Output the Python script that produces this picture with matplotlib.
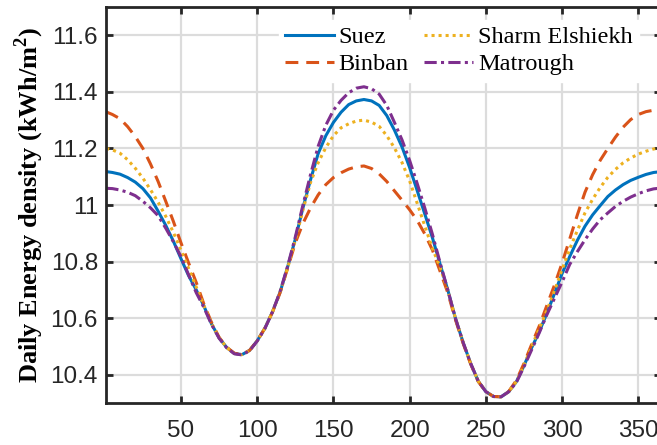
import matplotlib
matplotlib.use("Agg")
import matplotlib.pyplot as plt

days = [1] + list(range(5, 365, 5)) + [365]

suez = [11.118, 11.115, 11.109, 11.097, 11.081, 11.058, 11.025, 10.978, 10.928, 10.872,
        10.810, 10.750, 10.700, 10.643, 10.580, 10.530, 10.496, 10.475, 10.471, 10.486,
        10.520, 10.564, 10.622, 10.692, 10.782, 10.880, 10.990, 11.090, 11.182, 11.245,
        11.292, 11.328, 11.355, 11.368, 11.373, 11.368, 11.352, 11.316, 11.265, 11.205,
        11.132, 11.050, 10.967, 10.883, 10.790, 10.700, 10.600, 10.515, 10.440, 10.377,
        10.340, 10.323, 10.322, 10.340, 10.375, 10.432, 10.495, 10.552, 10.617, 10.687,
        10.758, 10.818, 10.875, 10.925, 10.965, 10.998, 11.030, 11.053, 11.072, 11.087,
        11.098, 11.108, 11.115, 11.118]

binban = [11.329, 11.320, 11.305, 11.277, 11.242, 11.200, 11.145, 11.083, 11.013, 10.942,
          10.866, 10.795, 10.726, 10.650, 10.585, 10.532, 10.497, 10.476, 10.471, 10.486,
          10.520, 10.564, 10.621, 10.690, 10.778, 10.866, 10.935, 10.990, 11.036, 11.072,
          11.097, 11.114, 11.127, 11.135, 11.138, 11.129, 11.110, 11.083, 11.050, 11.017,
          10.983, 10.945, 10.897, 10.840, 10.765, 10.690, 10.595, 10.512, 10.438, 10.376,
          10.340, 10.323, 10.322, 10.341, 10.380, 10.440, 10.507, 10.572, 10.645, 10.717,
          10.795, 10.880, 10.965, 11.045, 11.107, 11.158, 11.200, 11.240, 11.275, 11.302,
          11.320, 11.330, 11.335, 11.336]

sharm = [11.200, 11.195, 11.183, 11.160, 11.130, 11.095, 11.054, 11.010, 10.960, 10.903,
         10.840, 10.776, 10.710, 10.645, 10.582, 10.531, 10.496, 10.475, 10.471, 10.486,
         10.520, 10.564, 10.622, 10.690, 10.778, 10.875, 10.983, 11.080, 11.150, 11.203,
         11.245, 11.273, 11.287, 11.297, 11.300, 11.293, 11.278, 11.245, 11.202, 11.150,
         11.085, 11.005, 10.925, 10.845, 10.780, 10.698, 10.600, 10.515, 10.440, 10.377,
         10.340, 10.323, 10.322, 10.340, 10.376, 10.434, 10.500, 10.563, 10.627, 10.697,
         10.772, 10.845, 10.910, 10.972, 11.020, 11.062, 11.098, 11.126, 11.149, 11.166,
         11.180, 11.190, 11.198, 11.202]

matrough = [11.059, 11.058, 11.053, 11.045, 11.033, 11.013, 10.990, 10.962, 10.918, 10.870,
            10.817, 10.753, 10.690, 10.638, 10.578, 10.529, 10.495, 10.474, 10.470, 10.485,
            10.519, 10.563, 10.622, 10.694, 10.785, 10.887, 11.000, 11.108, 11.208, 11.282,
            11.335, 11.370, 11.397, 11.413, 11.418, 11.411, 11.392, 11.352, 11.292, 11.230,
            11.157, 11.075, 10.988, 10.895, 10.795, 10.700, 10.600, 10.515, 10.440, 10.377,
            10.340, 10.323, 10.322, 10.340, 10.373, 10.428, 10.488, 10.548, 10.612, 10.670,
            10.728, 10.790, 10.835, 10.877, 10.915, 10.948, 10.972, 10.995, 11.013, 11.028,
            11.040, 11.050, 11.057, 11.060]

series_names = ["Suez", "Binban", "Sharm Elshiekh", "Matrough"]
xticks = [50, 100, 150, 200, 250, 300, 350]
yticks = [10.4, 10.6, 10.8, 11.0, 11.2, 11.4, 11.6]
yticklabels = ["10.4", "10.6", "10.8", "11", "11.2", "11.4", "11.6"]

plt.rcParams["mathtext.fontset"] = "custom"
plt.rcParams["mathtext.rm"] = "Liberation Serif:bold"
plt.rcParams["mathtext.bf"] = "Liberation Serif:bold"

W, H = 657, 445
fig = plt.figure(figsize=(W / 100, H / 100), dpi=100)
left_px, right_px, top_px, bottom_px = 106.3, 661.2, 7.0, 403.0
ax = fig.add_axes([left_px / W, 1 - bottom_px / H,
                   (right_px - left_px) / W, (bottom_px - top_px) / H])

styles = [
    dict(color="#0072BD", linestyle="-"),
    dict(color="#D95319", linestyle=(0, (4.2, 2.6))),
    dict(color="#EDB120", linestyle=(0, (1, 1.3))),
    dict(color="#7E2F8E", linestyle=(0, (4.0, 1.4, 1.0, 1.4))),
]
for vals, name, st in zip([suez, binban, sharm, matrough], series_names, styles):
    ax.plot(days, vals, label=name, linewidth=2.2, **st)

ax.set_xlim(1, 365)
ax.set_ylim(10.3, 11.7)
ax.set_xticks(xticks)
ax.set_yticks(yticks)
ax.set_yticklabels(yticklabels)
ax.grid(True, color="#dcdcdc", linewidth=1.6)
ax.set_axisbelow(True)

for sp in ax.spines.values():
    sp.set_linewidth(2.0)
    sp.set_color("#262626")
ax.tick_params(direction="in", length=5, width=2, top=True, right=True,
               color="#262626", labelsize=17.5, labelcolor="#262626")
ax.tick_params(axis="x", pad=12)
ax.tick_params(axis="y", pad=6)
for lab in ax.get_xticklabels() + ax.get_yticklabels():
    lab.set_fontfamily("Liberation Sans")

ax.set_ylabel(r"Daily Energy density (kWh/m$^{\mathrm{2}}$)",
              fontfamily="Liberation Serif", fontweight="bold", fontsize=19,
              labelpad=3)

leg = ax.legend(ncol=2, loc="upper left",
                bbox_to_anchor=(279 / W, 1 - 20 / H), bbox_transform=fig.transFigure,
                prop={"family": "Liberation Serif", "size": 17.5},
                frameon=True, fancybox=False, framealpha=1.0,
                handlelength=2.0, handletextpad=0.2, columnspacing=0.65,
                labelspacing=0.22, borderpad=0.25, borderaxespad=0)
leg.get_frame().set_edgecolor("white")
leg.get_frame().set_facecolor("white")

fig.savefig("out.png", dpi=100)
